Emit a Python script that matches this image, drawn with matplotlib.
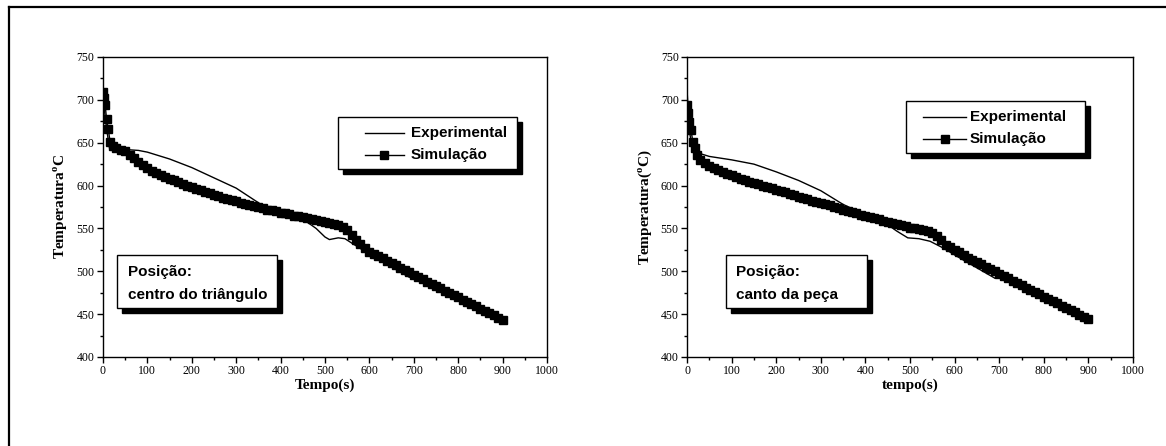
import numpy as np
import matplotlib
matplotlib.use('Agg')
import matplotlib.pyplot as plt
from matplotlib.lines import Line2D
from matplotlib.patches import Rectangle
from matplotlib.ticker import MultipleLocator

plt.rcParams['font.family'] = 'Liberation Serif'
plt.rcParams['mathtext.fontset'] = 'custom'
plt.rcParams['mathtext.rm'] = 'Liberation Serif:bold'

# Posição: centro do triângulo
t_exp_1 = [0, 5, 10, 15, 20, 50, 80, 100, 150, 200, 250, 300, 350, 370, 400,
           450, 480, 500, 510, 530, 545, 560, 600, 650, 690]
T_exp_1 = [703, 680, 660, 643, 642, 642, 641, 639, 631, 621, 609, 597, 580, 573, 568,
           561, 550, 540, 537, 539, 538, 533, 520, 505, 493]

t_sim_1 = [0, 2, 5, 8, 12, 16, 22, 30, 40] + list(range(50, 901, 10))
T_sim_1 = [709, 702, 694, 678, 666, 651, 646, 644, 642,
           640, 636, 632, 628, 624, 620, 617.5, 615, 612.5, 610,
           608, 606, 604, 602, 600, 598, 596, 594.5, 593, 591,
           589.5, 588, 586, 584.5, 583, 581.5, 580, 579, 577.5, 576,
           575, 573.5, 572, 571, 570, 568.5, 567.5, 566.5, 565, 564,
           563, 562, 561, 559.5, 558.5, 557.5, 556, 555, 554, 552,
           548, 542, 537, 532, 527, 523, 520, 517.5, 515, 512,
           509.5, 507, 504, 501.5, 499, 496, 493.5, 491, 488, 485.5,
           483, 480, 477.5, 475, 472, 469.5, 467, 464.5, 462, 459,
           456.5, 454, 451, 448.5, 446, 443]

# Posição: canto da peça
t_exp_2 = [0, 3, 6, 10, 15, 25, 50, 100, 150, 200, 250, 300, 350, 400,
           440, 470, 495, 520, 545, 575, 610, 650, 690]
T_exp_2 = [712, 685, 662, 648, 641, 638, 634, 630, 625, 616, 606, 594, 578, 566,
           558, 547, 539, 538, 535, 527, 516, 504, 492]

t_sim_2 = [0, 2, 5, 9, 13, 17, 22, 30, 40] + list(range(50, 901, 10))
T_sim_2 = [694, 685, 674, 665, 651, 644, 636, 630, 626,
           623, 620.5, 618.5, 616, 614, 612, 610, 608, 606.5, 604.5,
           603, 601.5, 600, 598.5, 597, 595, 593.5, 592, 590.5, 589,
           587, 585.5, 584, 582.5, 581, 580, 578.5, 577, 575.5, 574,
           572, 570.5, 569, 567.5, 566, 565, 563.5, 562, 560.5, 559,
           557.5, 556.5, 555, 554, 552.5, 551, 550, 549, 548, 547,
           545, 541, 536, 531, 528, 525, 522, 519, 516, 513,
           510.5, 508, 505, 502.5, 500, 497, 494.5, 492, 489, 486.5,
           484, 481, 478.5, 476, 473, 470.5, 468, 465, 462.5, 460,
           457, 454.5, 452, 449, 446.5, 444]

panels = [
    dict(rect=[0.0883, 0.1996, 0.3808, 0.6726], t_exp=t_exp_1, T_exp=T_exp_1,
         t_sim=t_sim_1, T_sim=T_sim_1, xlabel='Tempo(s)',
         ylabel=r'Temperatura$^{\mathrm{o}}$C',
         leg=(0.5293, 0.6267, 0.9324, 0.80), hx=(0.5901, 0.6779), lx=0.6937,
         rows=(0.7467, 0.6733),
         box=(0.0315, 0.163, 0.392, 0.34), txt_x=0.0563,
         pos='centro do triângulo'),
    dict(rect=[0.5892, 0.1996, 0.3825, 0.6726], t_exp=t_exp_2, T_exp=T_exp_2,
         t_sim=t_sim_2, T_sim=T_sim_2, xlabel='tempo(s)',
         ylabel=r'Temperatura($^{\mathrm{o}}$C)',
         leg=(0.491, 0.68, 0.8924, 0.8533), hx=(0.5291, 0.6256), lx=0.6345,
         rows=(0.80, 0.7267),
         box=(0.0874, 0.163, 0.4036, 0.34), txt_x=0.11,
         pos='canto da peça'),
]

bold_sans = dict(fontsize=11, fontweight='bold', family='Liberation Sans')


def caixa(ax, x0, y0, x1, y1, z):
    # caixa branca com sombra preta deslocada
    ax.add_patch(Rectangle((x0 + 0.0113, y0 - 0.0167), x1 - x0, y1 - y0,
                           transform=ax.transAxes, fc='black', ec='black', zorder=z))
    ax.add_patch(Rectangle((x0, y0), x1 - x0, y1 - y0, transform=ax.transAxes,
                           fc='white', ec='black', lw=1, zorder=z + 1))


fig = plt.figure(figsize=(11.66, 4.46), dpi=100)

for p in panels:
    ax = fig.add_axes(p['rect'])
    ax.plot(p['t_exp'], p['T_exp'], 'k-', lw=1, label='Experimental')
    ax.plot(p['t_sim'], p['T_sim'], 'k-', lw=1, marker='s', ms=6,
            mec='black', mfc='black', label='Simulação')
    ax.set_xlim(0, 1000)
    ax.set_ylim(400, 750)
    ax.xaxis.set_major_locator(MultipleLocator(100))
    ax.xaxis.set_minor_locator(MultipleLocator(50))
    ax.yaxis.set_major_locator(MultipleLocator(50))
    ax.yaxis.set_minor_locator(MultipleLocator(25))
    ax.tick_params(which='major', direction='out', length=4.5, width=1,
                   labelsize=8.5, top=False, right=False, pad=1.5)
    ax.tick_params(which='minor', direction='out', length=2.5, width=1,
                   top=False, right=False)
    for s in ax.spines.values():
        s.set_linewidth(1)
    ax.set_xlabel(p['xlabel'], fontsize=11, fontweight='bold', labelpad=1)
    ax.set_ylabel(p['ylabel'], fontsize=11, fontweight='bold', labelpad=5)

    # legenda desenhada à mão
    x0, y0, x1, y1 = p['leg']
    caixa(ax, x0, y0, x1, y1, 7)
    ha, hb = p['hx']
    r1, r2 = p['rows']
    ax.add_line(Line2D([ha, hb], [r1, r1], color='black', lw=1,
                       transform=ax.transAxes, zorder=9))
    ax.add_line(Line2D([ha, hb], [r2, r2], color='black', lw=1,
                       transform=ax.transAxes, zorder=9))
    ax.add_line(Line2D([(ha + hb) / 2], [r2], color='black', marker='s', ms=6,
                       transform=ax.transAxes, zorder=9))
    ax.text(p['lx'], r1, 'Experimental', transform=ax.transAxes, ha='left',
            va='center', zorder=10, **bold_sans)
    ax.text(p['lx'], r2, 'Simulação', transform=ax.transAxes, ha='left',
            va='center', zorder=10, **bold_sans)

    x0, y0, x1, y1 = p['box']
    caixa(ax, x0, y0, x1, y1, 4)
    ax.text(p['txt_x'], 0.283, 'Posição:', transform=ax.transAxes, ha='left',
            va='center', zorder=6, **bold_sans)
    ax.text(p['txt_x'], 0.207, p['pos'], transform=ax.transAxes, ha='left',
            va='center', zorder=6, **bold_sans)

# moldura externa (só topo e esquerda)
fig.add_artist(Line2D([0.0077, 1.0], [0.9843, 0.9843], color='black', lw=1.6,
                      transform=fig.transFigure))
fig.add_artist(Line2D([0.0077, 0.0077], [0.0, 0.9843], color='black', lw=1.6,
                      transform=fig.transFigure))

fig.savefig('out.png', dpi=100)
